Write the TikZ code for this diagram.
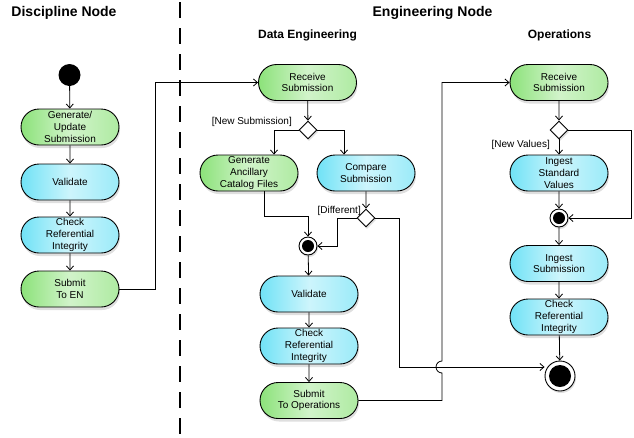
\documentclass[tikz,border=0pt]{standalone}
\usepackage{fontspec}
\setmainfont{Liberation Sans}
\usetikzlibrary{
  arrows.meta,      % 开口箭头
  calc,             % 坐标计算
  positioning,      % 节点相对定位
  shapes.geometric, % 判断菱形
  shapes.misc,      % 圆角活动框
  shadows           % 阴影
}
\definecolor{actGreen}{RGB}{140,226,122}
\definecolor{actCyan}{RGB}{112,226,246}

\begin{document}
\begin{tikzpicture}[x=1pt, y=-1pt, >={Straight Barb[length=4pt,width=7pt]},
  act/.style={rounded rectangle, draw=black, line width=0.9pt,
    minimum width=98pt, minimum height=36pt, inner sep=0pt, align=center,
    font=\fontsize{10}{11.7}\selectfont,
    drop shadow={shadow xshift=1pt, shadow yshift=-3pt, opacity=0.25}},
  actG/.style={act, left color=actGreen, right color=actGreen!70!white, middle color=actGreen!40!white},
  actC/.style={act, left color=actCyan, right color=actCyan!70!white, middle color=actCyan!35!white},
  decision/.style={diamond, draw=black, line width=0.9pt, fill=white, aspect=1,
    minimum width=18pt, minimum height=18pt, inner sep=0pt,
    drop shadow={shadow xshift=1pt, shadow yshift=-2pt, opacity=0.25}},
  merge/.style={circle, draw=black, line width=0.9pt, fill=white, minimum size=18pt, inner sep=0pt,
    path picture={\fill[black] (path picture bounding box.center) circle (6pt);},
    drop shadow={shadow xshift=1pt, shadow yshift=-2pt, opacity=0.25}},
  final/.style={circle, draw=black, line width=0.9pt, fill=white, minimum size=30pt, inner sep=0pt,
    path picture={\fill[black] (path picture bounding box.center) circle (11pt);},
    drop shadow={shadow xshift=1pt, shadow yshift=-2pt, opacity=0.25}},
  start/.style={circle, fill=black, minimum size=22pt, inner sep=0pt},
  flow/.style={->, line width=0.8pt},
  guard/.style={font=\fontsize{10}{12}\selectfont, inner sep=0pt},
  laneTitle/.style={font=\bfseries\fontsize{14}{16}\selectfont},
  subTitle/.style={font=\bfseries\fontsize{12}{14}\selectfont}
]
  \useasboundingbox (0,0) rectangle (634,437);

  % 泳道标题与分隔线
  \node[laneTitle] (tDis) at (64,13) {Discipline Node};
  \node[laneTitle] (tEng) at (432.5,13) {Engineering Node};
  \node[subTitle] (tDat) at (307.5,35) {Data Engineering};
  \node[subTitle] (tOps) at (559.5,35) {Operations};
  \draw[line width=2pt, dash pattern=on 16pt off 10pt] (180,2) -- (180,437);

  % 1. Discipline Node 泳道
  \node[start] (dStart) at (69.5,75) {};
  \node[actG] (dGen) at (70,127) {Generate/\\Update\\Submission};
  \node[actC] (dVal) at (70,182) {Validate};
  \node[actC] (dChk) at (70,235) {Check\\Referential\\Integrity};
  \node[actG] (dSub) at (70,289) {Submit\\To EN};

  % 2. Data Engineering 泳道
  \node[actG] (eRcv) at (307.5,82.5) {Receive\\Submission};
  \node[decision] (eDec) at (308,130) {};
  \node[actG] (eAnc) at (249,173) {Generate\\Ancillary\\Catalog Files};
  \node[actC] (eCmp) at (366,173) {Compare\\Submission};
  \node[decision] (eDif) at (366,218) {};
  \node[merge] (eMrg) at (308,246) {};
  \node[actC] (eVal) at (309,294) {Validate};
  \node[actC] (eChk) at (309,346) {Check\\Referential\\Integrity};
  \node[actG] (eSub) at (309,400.5) {Submit\\To Operations};
  \node[guard, anchor=east] (gNew) at (292,122) {[New Submission]};
  \node[guard, anchor=east] (gDif) at (361,211) {[Different]};

  % 3. Operations 泳道
  \node[actG] (oRcv) at (559,82.5) {Receive\\Submission};
  \node[decision] (oDec) at (559,130) {};
  \node[actC] (oStd) at (559,173) {Ingest\\Standard\\Values};
  \node[merge] (oMrg) at (559,218) {};
  \node[actC] (oIng) at (559,263.5) {Ingest\\Submission};
  \node[actC] (oChk) at (559,317) {Check\\Referential\\Integrity};
  \node[final] (oEnd) at (560,376) {};
  \node[guard, anchor=east] (gVal) at (550,144.5) {[New Values]};

  % 连线
  \draw[flow] (dStart) -- (dGen);
  \draw[flow] (dGen) -- (dVal);
  \draw[flow] (dVal) -- (dChk);
  \draw[flow] (dChk) -- (dSub);
  \draw[flow] (dSub.east) -- ++(36,0) |- (eRcv.west);

  \draw[flow] (eRcv) -- (eDec);
  \draw[flow] (eDec.west) -| ([xshift=25pt]eAnc.north);
  \draw[flow] (eDec.east) -| ([xshift=-22pt]eCmp.north);
  \draw[flow] (eCmp) -- (eDif);
  \draw[flow] ([xshift=15pt]eAnc.south) |- ([yshift=20pt]eMrg.north) -- (eMrg);
  \draw[flow] (eDif.west) -- ++(-19,0) |- (eMrg.east);
  \coordinate (eDrop) at (399,367);
  \draw[flow] (eDif.east) -| (eDrop) -- (eDrop -| oEnd.west);
  \draw[flow] (eMrg) -- (eVal);
  \draw[flow] (eVal) -- (eChk);
  \draw[flow] (eChk) -- (eSub);
  % 跨线处的小弧
  \coordinate (hopLo) at (442,373);
  \draw[flow] (eSub.east) -| (hopLo) arc[start angle=90, end angle=270, radius=6] |- (oRcv.west);

  \draw[flow] (oRcv) -- (oDec);
  \draw[flow] (oDec) -- (oStd);
  \draw[flow] (oDec.east) -- ++(63,0) |- (oMrg.east);
  \draw[flow] (oStd) -- (oMrg);
  \draw[flow] (oMrg) -- (oIng);
  \draw[flow] (oIng) -- (oChk);
  \draw[flow] (oChk) -- (oEnd);
\end{tikzpicture}
\end{document}
